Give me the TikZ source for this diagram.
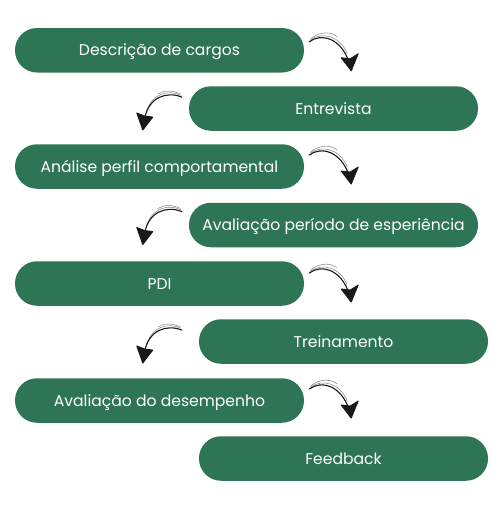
\documentclass[tikz,border=0pt]{standalone}
\usepackage{fontspec}
\setmainfont{Poppins}
\usetikzlibrary{calc}
\definecolor{boxgreen}{RGB}{46,117,85}
\definecolor{inkdark}{RGB}{25,25,25}
\tikzset{
  x=1pt, y=-1pt,
  stepbox/.style={fill=boxgreen, draw=none, rounded corners=22pt, minimum width=289pt, minimum height=44.5pt, inner sep=0pt, text height=12.7pt, text depth=1.7pt, text=white, font=\fontsize{15.6}{18}\selectfont},
  ink/.style={draw=inkdark, line width=1.1pt, line cap=round},
  inklight/.style={draw=inkdark!55, line width=0.5pt, line cap=round},
  headfill/.style={fill=inkdark, draw=inkdark, line width=0.9pt, line join=round},
  rarr/.pic={
    \draw[inklight] (1,-1.8) .. controls (13,-10.5) and (31,-6) .. (38,12);
    \draw[inklight] (1.5,-3.2) .. controls (12,-11) and (22,-10) .. (28,-5);
    \draw[ink] (0,0) .. controls (12,-9) and (32,-4) .. (40,21);
    \path[headfill] (32,16) -- (42,29) -- (49,12) -- (41,17) -- cycle;
    \draw[inkdark, line width=0.5pt] (34,16) -- (43,28) (47,13) -- (40,27);
  },
  larr/.pic={
    \draw[inklight] (-1,-1.8) .. controls (-14,-8) and (-30,-3) .. (-35,14);
    \draw[inklight] (-1.5,-3.2) .. controls (-10,-7) and (-18,-7) .. (-24,-3);
    \draw[ink] (0,0) .. controls (-15,-6) and (-33,0) .. (-37,21);
    \path[headfill] (-45,16) -- (-39,33) -- (-29,20) -- (-37,19) -- cycle;
    \draw[inkdark, line width=0.5pt] (-44,16) -- (-39,31) (-30,20) -- (-40,32);
  }
}
\begin{document}
\begin{tikzpicture}
\useasboundingbox (0,0) rectangle (503,531);
\node[stepbox] (b1) at (159.5,50.25) {Descrição de cargos};
\node[stepbox] (b2) at (333.5,108.5) {Entrevista};
\node[stepbox] (b3) at (159.5,166.5) {Análise perfil comportamental};
\node[stepbox] (b4) at (333.5,225) {Avaliação período de esperiência};
\node[stepbox] (b5) at (159.5,283.5) {PDI};
\node[stepbox] (b6) at (343.5,341.5) {Treinamento};
\node[stepbox] (b7) at (159.5,400.5) {Avaliação do desempenho};
\node[stepbox] (b8) at (343.5,458.5) {Feedback};
% connector start points
\coordinate (a1) at ($(b1.north east)+(5,14)$);
\coordinate (a2) at ($(b2.north west)+(-7,11)$);
\coordinate (a3) at ($(b3.north east)+(5,11)$);
\coordinate (a4) at ($(b4.north west)+(-7,9)$);
\coordinate (a5) at ($(b5.north east)+(5,12)$);
\coordinate (a6) at ($(b6.north west)+(-17,11)$);
\coordinate (a7) at ($(b7.north east)+(5,11)$);
\pic at (a1) {rarr};
\pic at (a2) {larr};
\pic at (a3) {rarr};
\pic at (a4) {larr};
\pic at (a5) {rarr};
\pic at (a6) {larr};
\pic at (a7) {rarr};
\end{tikzpicture}
\end{document}
